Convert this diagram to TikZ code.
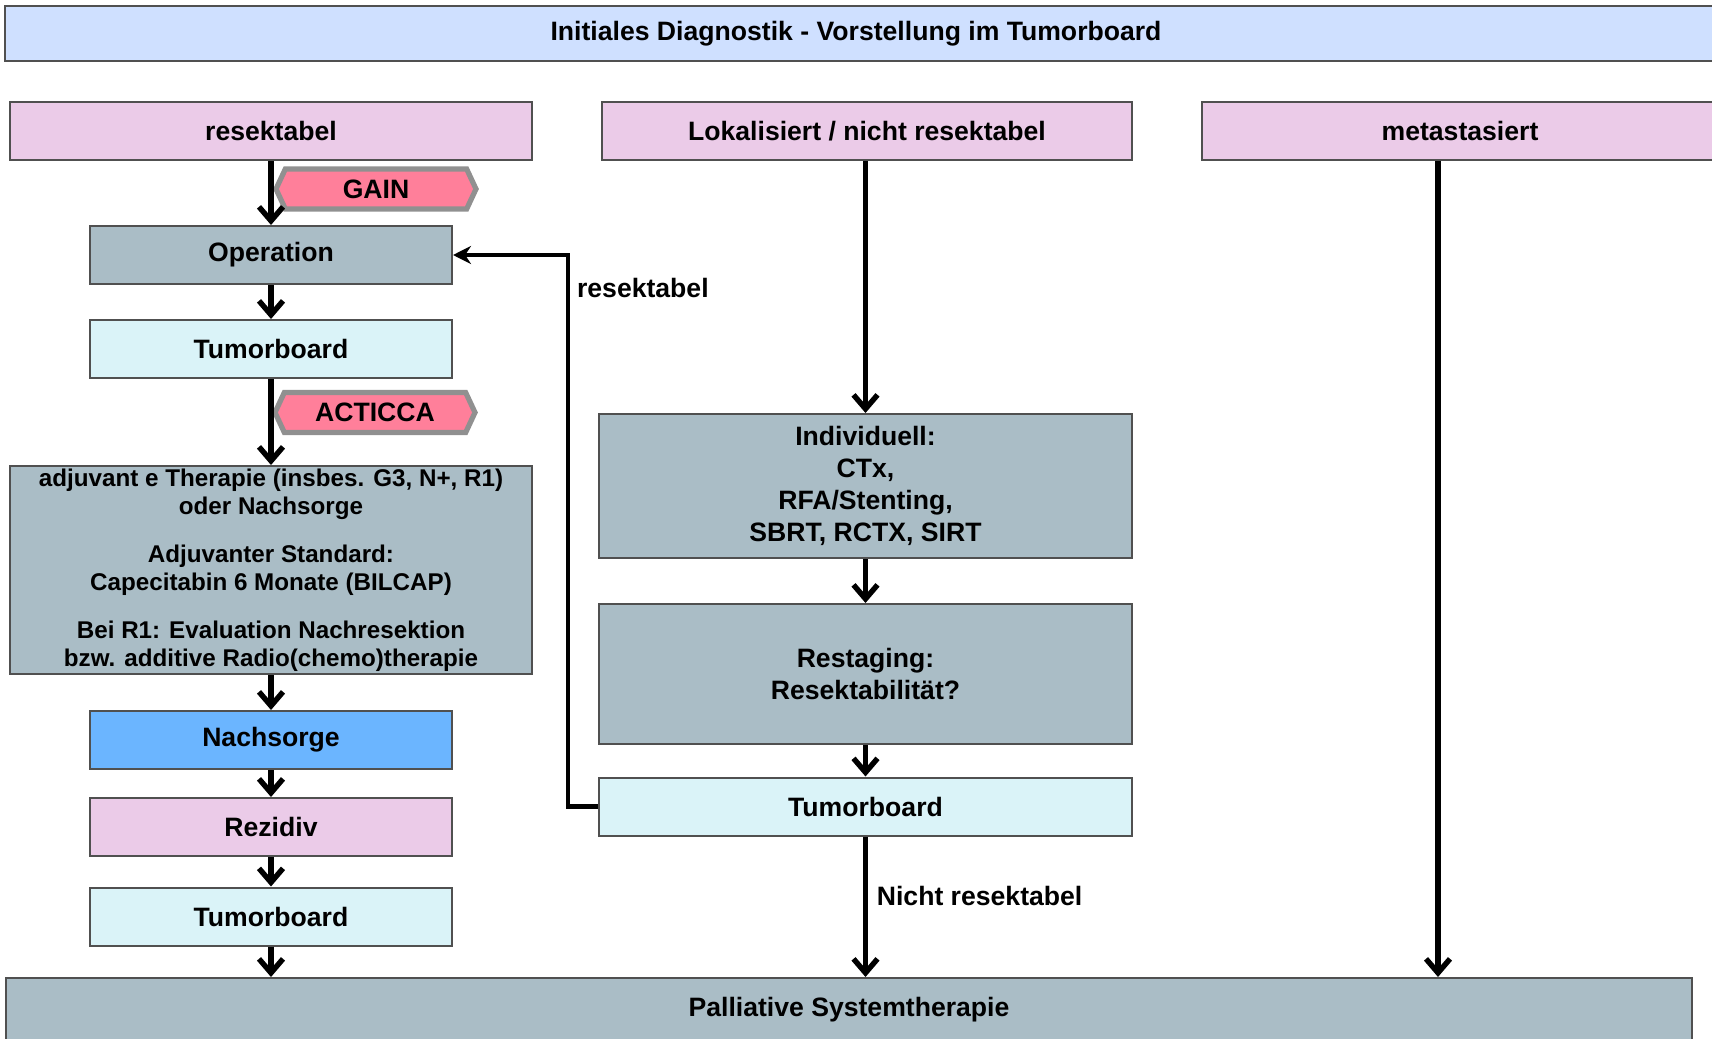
\documentclass[tikz,border=0pt]{standalone}
\usepackage{fontspec}
\setmainfont{Liberation Sans}
\usetikzlibrary{arrows.meta,shapes.symbols}
\begin{document}
\begin{tikzpicture}[x=0.5pt, y=-0.5pt,
    >={Straight Barb[length=7pt,width=12pt]},
    box/.style={draw=borderColour, line width=1pt, align=center, inner sep=0pt,
        font=\bfseries\fontsize{13.3}{16}\selectfont},
    pinkbox/.style={box, fill=fillPink, minimum height=29pt},
    greybox/.style={box, fill=fillGrey},
    boardbox/.style={box, fill=fillCyan, minimum width=181pt, minimum height=29pt},
    tagbox/.style={shape=signal, signal to=west and east, signal pointer angle=130,
        draw=tagBorder, line width=2.6pt, fill=tagFill, minimum width=100pt, minimum height=20pt,
        inner sep=0pt, font=\bfseries\fontsize{13.3}{16}\selectfont},
    flow/.style={line width=2.7pt, ->},
    txt/.style={font=\bfseries\fontsize{13.3}{16}\selectfont}
]
    \definecolor{borderColour}{HTML}{505050}
    \definecolor{fillTitle}{HTML}{CFE0FF}
    \definecolor{fillPink}{HTML}{EBCBE8}
    \definecolor{fillGrey}{HTML}{AABDC6}
    \definecolor{fillCyan}{HTML}{DAF3F8}
    \definecolor{fillBlue}{HTML}{6BB5FF}
    \definecolor{tagFill}{HTML}{FF7F9A}
    \definecolor{tagBorder}{HTML}{909090}

    \useasboundingbox (0,0) rectangle (1712,1038);

    % Header
    \node[box, fill=fillTitle, minimum width=862pt, minimum height=27.5pt] (title) at (867,34) {};
    \node[txt] at (856,34) {Initiales Diagnostik - Vorstellung im Tumorboard};

    % Three groups
    \node[pinkbox, minimum width=261pt] (res) at (271,131) {resektabel};
    \node[pinkbox, minimum width=265pt] (lok) at (867,131) {Lokalisiert / nicht resektabel};
    \node[pinkbox, minimum width=258pt] (meta) at (1460,131) {metastasiert};

    % Left column
    \node[greybox, minimum width=181pt, minimum height=29pt] (op) at (271,255) {Operation};
    \node[boardbox] (tbA) at (271,349) {Tumorboard};
    \node[greybox, minimum width=261pt, minimum height=104pt,
        font=\bfseries\fontsize{12.1}{14}\selectfont] (adj) at (271,570)
        {adjuvant e Therapie (insbes. G3, N+, R1)\\oder Nachsorge\\[10pt]
         Adjuvanter Standard:\\Capecitabin 6 Monate (BILCAP)\\[10pt]
         Bei R1: Evaluation Nachresektion\\bzw. additive Radio(chemo)therapie};
    \node[box, fill=fillBlue, minimum width=181pt, minimum height=29pt] (nach) at (271,740) {Nachsorge};
    \node[pinkbox, minimum width=181pt] (rez) at (271,827) {Rezidiv};
    \node[boardbox] (tbC) at (271,916.5) {Tumorboard};

    % Study tags
    \node[tagbox] (gain) at (376,189) {GAIN};
    \node[tagbox] (acticca) at (375,412.5) {ACTICCA};

    % Middle column
    \node[greybox, minimum width=266.5pt, minimum height=72pt] (ind) at (865.5,486)
        {Individuell:\\CTx,\\RFA/Stenting,\\SBRT, RCTX, SIRT};
    \node[greybox, minimum width=266.5pt, minimum height=70pt] (rest) at (865.5,674)
        {Restaging:\\Resektabilität?};
    \node[boardbox, minimum width=266.5pt] (tbB) at (865.5,806.5) {Tumorboard};

    % Bottom
    \node[greybox, minimum width=843pt, minimum height=32pt] (pall) at (849,1010)
        {Palliative Systemtherapie};

    % Arrows left
    \draw[flow] (res) -- (op);
    \draw[flow] (op) -- (tbA);
    \draw[flow] (tbA) -- (adj);
    \draw[flow] (adj) -- (nach);
    \draw[flow] (nach) -- (rez);
    \draw[flow] (rez) -- (tbC);
    \draw[flow] (tbC) -- (tbC.south |- pall.north);

    % Arrows middle
    \draw[flow] (lok.south -| ind.north) -- (ind);
    \draw[flow] (ind) -- (rest);
    \draw[flow] (rest) -- (tbB);
    \draw[flow] (tbB) -- node[txt, right, pos=0.42, xshift=1pt] {Nicht resektabel} (tbB.south |- pall.north);

    % Back to operation
    \coordinate (turn) at (568,255);
    \draw[line width=2.2pt, -{Stealth[length=9pt,width=9pt]}] (tbB.west) -| (turn) -- (op.east);
    \node[txt, anchor=west] (reslabel) at (570,288) {resektabel};

    % Right column
    \coordinate (metaout) at (1438,160.5);
    \draw[flow] (metaout) -- (metaout |- pall.north);

\end{tikzpicture}
\end{document}
